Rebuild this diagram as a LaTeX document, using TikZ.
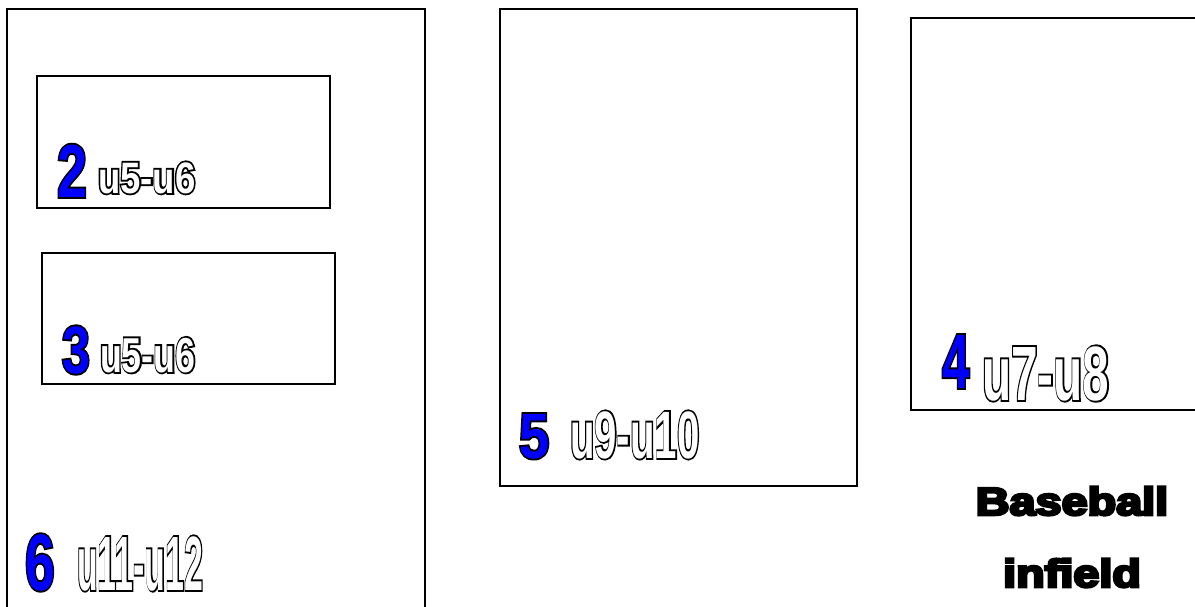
\documentclass[tikz,border=0pt]{standalone}
\usepackage{fontspec}
\usepackage{graphicx}
\setmainfont{Liberation Sans}
\definecolor{numblue}{RGB}{0,0,255}
% #1 size, #2 xscale, #3 inner colour, #4 embolden amount, #5 text
\newcommand{\outl}[5]{\scalebox{#2}[1]{\fontsize{#1}{#1}\selectfont
  \rlap{\fontspec{Liberation Sans Bold}[FakeBold=#4]\color{black}#5}%
  {\fontspec{Liberation Sans Bold}\color{#3}#5}}}
\newcommand{\heavy}[4]{\scalebox{#2}[1]{\fontsize{#1}{#1}\selectfont
  \fontspec{Liberation Sans Bold}[FakeBold=#3]\color{black}#4}}
\tikzset{
  frame/.style={draw=black,line width=2pt},
  lbl/.style={inner sep=0pt,outer sep=0pt,anchor=base west},
  ttl/.style={inner sep=0pt,outer sep=0pt,anchor=base}
}
\begin{document}
\begin{tikzpicture}[x=1pt,y=-1pt]
\useasboundingbox (0,0) rectangle (1195,606);
\clip (0,0) rectangle (1195,606);
\fill[white] (0,0) rectangle (1195,606);
% frames
\draw[frame] (7,9) rectangle (425,640);
\draw[frame] (37,76) rectangle (330,208);
\draw[frame] (42,253) rectangle (335,384);
\draw[frame] (500,9) rectangle (857,486);
\draw[frame] (911,18) rectangle (1230,410);
% labels
\node[lbl] (n2) at (57,197) {\outl{75}{0.72}{numblue}{5}{2}};
\node[lbl] (u2) at (98,193) {\outl{44}{0.83}{white}{8.5}{u5-u6}};
\node[lbl] (n3) at (62,373) {\outl{67}{0.75}{numblue}{5.6}{3}};
\node[lbl] (u3) at (100,372) {\outl{49}{0.73}{white}{7.6}{u5-u6}};
\node[lbl] (n6) at (25,590) {\outl{80}{0.67}{numblue}{4.7}{6}};
\node[lbl] (u6) at (77,590) {\outl{77}{0.44}{white}{5}{u11-u12}};
\node[lbl] (n5) at (519,458) {\outl{64}{0.85}{numblue}{5.8}{5}};
\node[lbl] (u5) at (570,458) {\outl{67}{0.6}{white}{5.6}{u9-u10}};
\node[lbl] (n4) at (942,388) {\outl{77}{0.64}{numblue}{4.9}{4}};
\node[lbl] (u4) at (982,400) {\outl{77}{0.62}{white}{4.9}{u7-u8}};
\node[ttl] (t1) at (1072,515) {\heavy{39}{1.2}{6.5}{Baseball}};
\node[ttl] (t2) at (1072,587) {\heavy{39}{1.2}{6.5}{infield}};
\end{tikzpicture}
\end{document}
